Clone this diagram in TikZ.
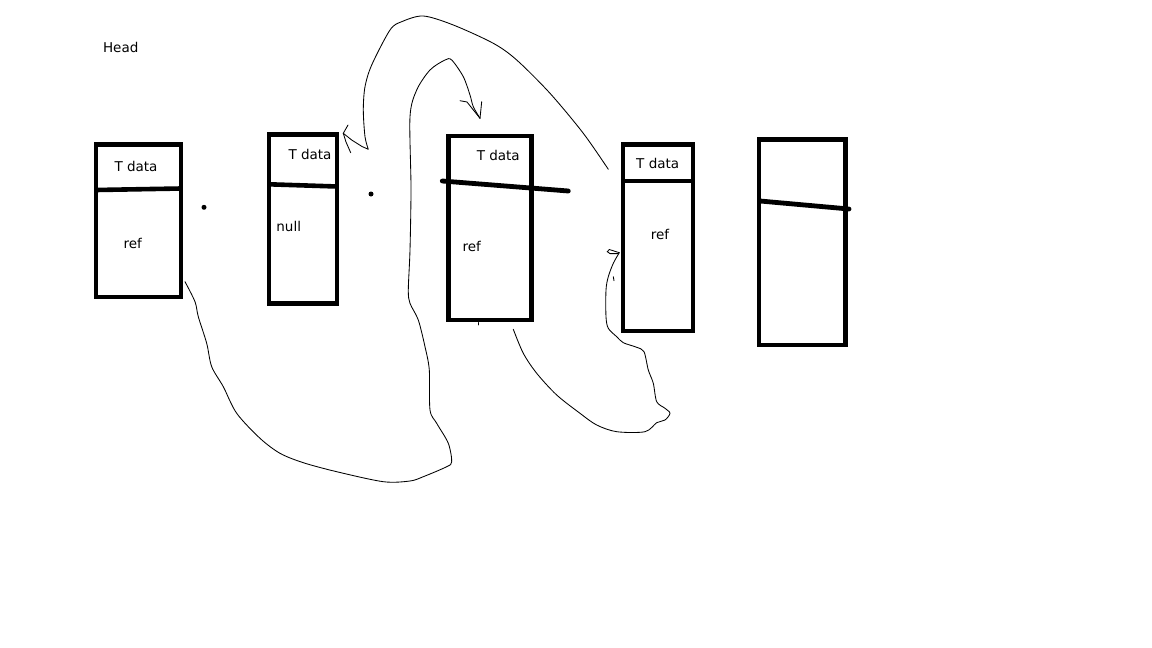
\documentclass[tikz,border=0pt]{standalone}
\usepackage{fontspec}
\setmainfont{DejaVu Sans}
\begin{document}
\begin{tikzpicture}[x=1pt,y=-1pt,
  cell/.style={draw=black,line width=4.6pt,inner sep=0pt,outer sep=0pt},
  lbl/.style={inner sep=0pt,font=\fontsize{13.5}{16}\selectfont,text=black},
  bar/.style={line width=4.6pt},
  thickbar/.style={line width=4.8pt,line cap=round},
  pen/.style={line width=0.85pt,line join=round,line cap=round},
  tip/.style={line width=0.85pt,line cap=round},
  dotmark/.style={fill=black}]
\fill[white] (0,0) rectangle (1152,648);
\useasboundingbox (0,0) rectangle (1152,648);

% boxes
\node[cell,minimum width=85pt,minimum height=152.5pt] (b1) at (138.5,220.75) {};
\node[cell,minimum width=68pt,minimum height=169pt] (b2) at (303,219.2) {};
\node[cell,minimum width=83pt,minimum height=184.2pt] (b3) at (489.8,227.9) {};
\node[cell,minimum width=70.2pt,minimum height=186.3pt] (b4) at (657.9,237.85) {};
\node[cell,minimum width=86.7pt,minimum height=205.3pt] (b5) at (802.15,242.35) {};

% dividers
\draw[bar] (96,190) -- (181,188.5);
\draw[bar] (269,184.3) -- (337,186.5);
\draw[thickbar] (442.3,181) -- (568.3,191);
\draw[bar] (622.8,180.8) -- (693,180.8);
\draw[thickbar] (760,201) -- (849,209);

% texts
\node[lbl] (head) at (120.7,47.8) {Head};
\node[lbl] (t1) at (136,166.2) {T data};
\node[lbl] (r1) at (132.8,243.7) {ref};
\node[lbl] (t2) at (310,154.3) {T data};
\node[lbl] (n2) at (288.7,226.3) {null};
\node[lbl] (t3) at (498.3,155) {T data};
\node[lbl] (r3) at (471.7,246.7) {ref};
\node[lbl] (t4) at (657.7,163.3) {T data};
\node[lbl] (r4) at (660,234.3) {ref};

% dots
\node[dotmark,circle,inner sep=0pt,minimum size=5pt] (d1) at (204,207.3) {};
\node[dotmark,circle,inner sep=0pt,minimum size=5pt] (d2) at (371,194) {};

% small ticks
\draw[pen] (478,322.5) -- (478,325);
\draw[pen] (613.3,276.7) -- (614,280.7);

% named ends of the hand-drawn curves
\coordinate (aS) at (608.3,169.3);
\coordinate (aT) at (343.3,133.3);
\coordinate (bS) at (185,281.7);
\coordinate (bT) at (480,118.3);
\coordinate (cS) at (513.3,329.3);
\coordinate (cT) at (619.3,252.7);

% curve A: from box 4 over the top back to box 2
\draw[pen] plot[smooth,tension=0.5] coordinates {(aS) (583.3,133.3) (550,93.3) (516.7,60) (493.3,43.3) (453.3,25) (423.3,16) (401.7,21.7) (390,30) (371.7,65) (365,86.7) (363.3,110) (365,136.7) (368.3,149.3)} -- (362,146.5) -- (351.7,140) -- (aT);
\draw[tip] (aT) -- (348,125);
\draw[tip] (aT) -- (346,142) -- (350.7,152.7);

% curve B: from box 1 under and up into box 3
\draw[pen] plot[smooth,tension=0.5] coordinates {(bS) (195,301.7) (198.3,316.7) (206.7,343.3) (211.7,366.7) (223.3,386.7) (236.7,413.3) (260,438.3) (280,453.3) (303.3,462.7) (336.7,471.7) (383.3,481.7) (410,481) (423.3,476.7) (446.7,466.7) (451.7,461.7) (448.3,443.3) (436.7,423.3) (430,410) (429.3,370) (425,346.7) (418.3,320) (410,303.3) (408.3,290) (410,250) (411,188) (410,116.7) (416.7,90) (430,70) (445,60) (451.7,60) (463.3,76.7) (470,95) (473.3,106.7) (bT)};
\draw[tip] (460,100.7) -- (467,102) -- (bT);
\draw[tip] (481.7,101.7) -- (bT);

% curve C: from box 3 under and up into box 4
\draw[pen] plot[smooth,tension=0.5] coordinates {(cS) (523.3,353.3) (536.7,373.3) (556.7,395) (580,413.3) (596.7,425) (616.7,431.7) (645,431.7) (656.7,422.7) (665,420) (670,413.3) (665,408.3) (656.7,401.7) (653.3,383.3) (648.3,370) (644,351.7) (636.7,347.3) (623.3,342.7) (616.7,336.7) (608.3,328.3) (606,316.7) (606,290) (608.3,276.7) (613.3,263.3) (cT)};
\draw[tip] (cT) -- (609.3,249.5) -- (607.3,251.7) -- (610,253.6) -- (618.3,253.6);
\end{tikzpicture}
\end{document}
